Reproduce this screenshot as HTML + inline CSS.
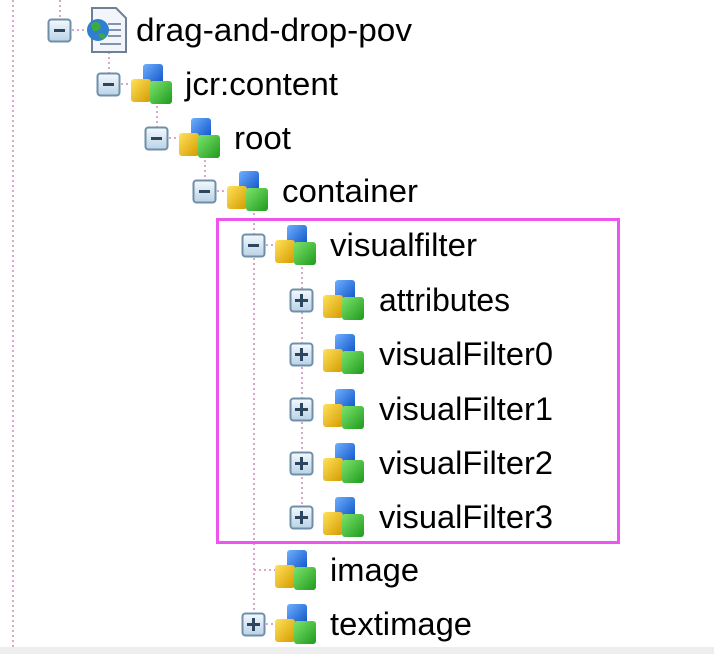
<!DOCTYPE html>
<html><head><meta charset="utf-8"><style>
html,body{margin:0;padding:0;background:#fff;width:714px;height:654px;overflow:hidden}
</style></head><body>
<svg width="714" height="654" viewBox="0 0 714 654" xmlns="http://www.w3.org/2000/svg">
<defs>
<linearGradient id="tg" x1="0" y1="0" x2="0" y2="1"><stop offset="0" stop-color="#f4f9fd"/><stop offset="1" stop-color="#b9d2e6"/></linearGradient>
<linearGradient id="cb" x1="0" y1="0" x2="1" y2="1"><stop offset="0" stop-color="#6fb0ff"/><stop offset="1" stop-color="#0a4fc4"/></linearGradient>
<linearGradient id="cy" x1="0" y1="0" x2="1" y2="1"><stop offset="0" stop-color="#ffe25a"/><stop offset="1" stop-color="#d49a00"/></linearGradient>
<linearGradient id="cg" x1="0" y1="0" x2="1" y2="1"><stop offset="0" stop-color="#7de36a"/><stop offset="1" stop-color="#1f9a1f"/></linearGradient>
<g id="minus"><rect x="0.5" y="0.5" width="22" height="22" rx="3" fill="url(#tg)" stroke="#6f8fa8" stroke-width="2"/><rect x="6" y="10" width="11" height="3" fill="#2d4660"/></g>
<g id="plus"><rect x="0.5" y="0.5" width="22" height="22" rx="3" fill="url(#tg)" stroke="#6f8fa8" stroke-width="2"/><rect x="5" y="10" width="13" height="3" fill="#2d4660"/><rect x="10" y="5" width="3" height="13" fill="#2d4660"/></g>
<g id="cube">
<rect x="11" y="-1" width="20" height="22" rx="3" fill="url(#cb)"/>
<rect x="-1" y="14" width="20" height="23" rx="3" fill="url(#cy)"/>
<rect x="18" y="16" width="22" height="23" rx="3" fill="url(#cg)"/>
</g>
</defs>
<g stroke="#d9a8c8" stroke-width="2" stroke-dasharray="2 3" fill="none">
<line x1="13" y1="0" x2="13" y2="648"/>
<line x1="60" y1="0" x2="60" y2="20"/>
<line x1="109" y1="42" x2="109" y2="84"/>
<line x1="157" y1="96" x2="157" y2="138"/>
<line x1="205" y1="150" x2="205" y2="191"/>
<line x1="254" y1="203" x2="254" y2="624"/>
<line x1="302" y1="257" x2="302" y2="517"/>
<line x1="72" y1="30" x2="84" y2="30"/>
<line x1="121" y1="84" x2="132" y2="84"/>
<line x1="169" y1="138" x2="180" y2="138"/>
<line x1="217" y1="191" x2="228" y2="191"/>
<line x1="266" y1="245" x2="276" y2="245"/>
<line x1="254" y1="570" x2="278" y2="570"/>
<line x1="266" y1="624" x2="276" y2="624"/>
</g>
<use href="#minus" x="48" y="19"/>
<use href="#minus" x="97" y="73"/>
<use href="#minus" x="145" y="127"/>
<use href="#minus" x="193" y="180"/>
<use href="#minus" x="242" y="234"/>
<use href="#plus" x="290" y="289"/>
<use href="#plus" x="290" y="343"/>
<use href="#plus" x="290" y="398"/>
<use href="#plus" x="290" y="452"/>
<use href="#plus" x="290" y="506"/>
<use href="#plus" x="242" y="613"/>
<g transform="translate(86,8)">
<path d="M6 0 H30 L40 10 V44 H6 Z" fill="#f2f5fa" stroke="#6f7f95" stroke-width="2"/>
<g stroke="#8094b0" stroke-width="2"><line x1="22" y1="16" x2="35" y2="16"/><line x1="22" y1="22" x2="35" y2="22"/><line x1="22" y1="28" x2="35" y2="28"/><line x1="14" y1="36" x2="35" y2="36"/></g>
<circle cx="12" cy="22" r="11" fill="#2f7fd0"/>
<path d="M5 16 q5 -4 9 0 q2 5 -3 7 q-5 2 -6 -7z M12 26 q6 -2 8 3 q-4 5 -8 -3z" fill="#3cab3c"/>
</g>
<use href="#cube" x="132" y="65"/>
<use href="#cube" x="180" y="119"/>
<use href="#cube" x="228" y="172"/>
<use href="#cube" x="276" y="226"/>
<use href="#cube" x="324" y="281"/>
<use href="#cube" x="324" y="335"/>
<use href="#cube" x="324" y="390"/>
<use href="#cube" x="324" y="444"/>
<use href="#cube" x="324" y="498"/>
<use href="#cube" x="276" y="551"/>
<use href="#cube" x="276" y="605"/>
<g font-family="Liberation Sans, Arial, sans-serif" font-size="32" fill="#000">
<text x="136" y="41" textLength="276" lengthAdjust="spacingAndGlyphs">drag-and-drop-pov</text>
<text x="185" y="95" textLength="153" lengthAdjust="spacingAndGlyphs">jcr:content</text>
<text x="234" y="149" textLength="57" lengthAdjust="spacingAndGlyphs">root</text>
<text x="282" y="202" textLength="136" lengthAdjust="spacingAndGlyphs">container</text>
<text x="330" y="256" textLength="147" lengthAdjust="spacingAndGlyphs">visualfilter</text>
<text x="379" y="311" textLength="131" lengthAdjust="spacingAndGlyphs">attributes</text>
<text x="379" y="365" textLength="174" lengthAdjust="spacingAndGlyphs">visualFilter0</text>
<text x="379" y="420" textLength="174" lengthAdjust="spacingAndGlyphs">visualFilter1</text>
<text x="379" y="474" textLength="174" lengthAdjust="spacingAndGlyphs">visualFilter2</text>
<text x="379" y="528" textLength="174" lengthAdjust="spacingAndGlyphs">visualFilter3</text>
<text x="330" y="581" textLength="89" lengthAdjust="spacingAndGlyphs">image</text>
<text x="330" y="635" textLength="142" lengthAdjust="spacingAndGlyphs">textimage</text>
</g>
<rect x="217.5" y="219.5" width="401" height="323" fill="none" stroke="#ee55ee" stroke-width="3"/>
<rect x="0" y="647" width="714" height="7" fill="#eeeeee"/>
</svg>
</body></html>
